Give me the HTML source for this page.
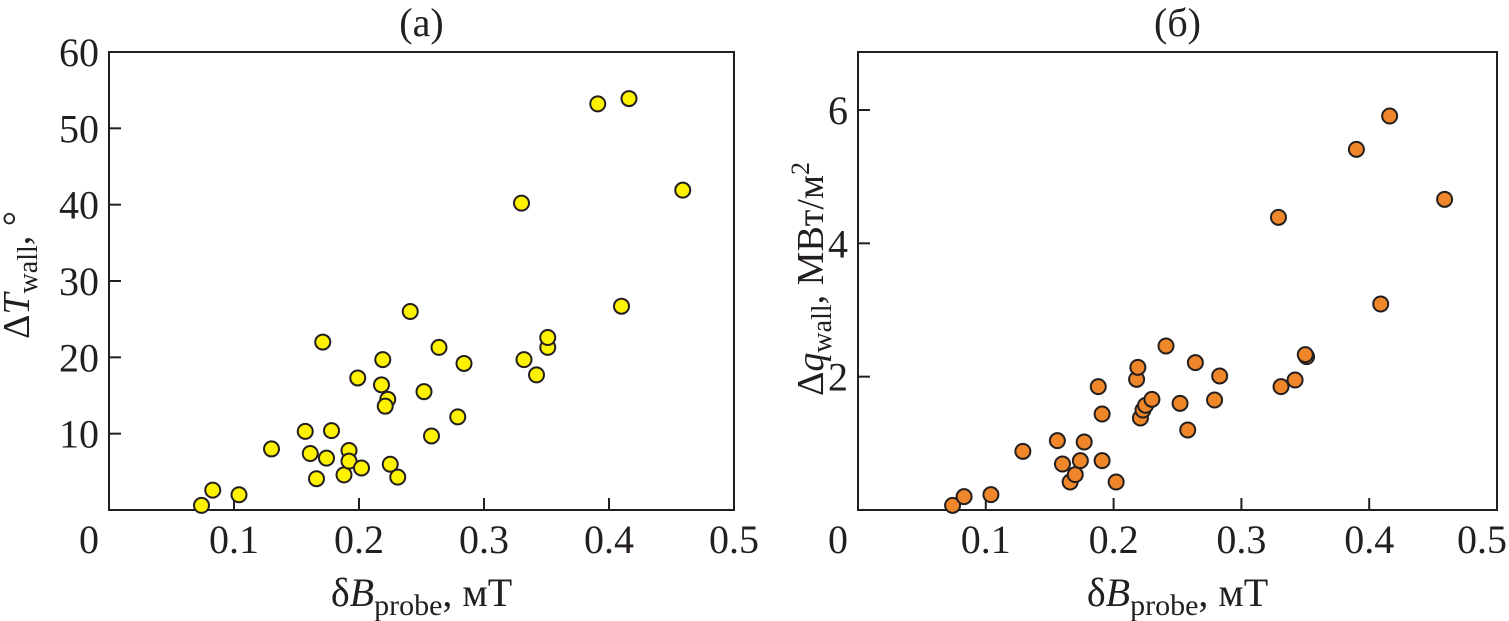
<!DOCTYPE html>
<html><head><meta charset="utf-8"><style>
html,body{margin:0;padding:0;background:#fff;}
svg{display:block;font-family:"Liberation Serif",serif;fill:#231f20;}
</style></head><body>
<svg id="chart" width="1509" height="621" viewBox="0 0 1509 621" xmlns="http://www.w3.org/2000/svg">
<g id="pa"></g>
<g id="pb"></g>
</svg>
<script>
const xTicks=[0,0.1,0.2,0.3,0.4,0.5];
const xTickLabels=["0","0.1","0.2","0.3","0.4","0.5"];
const aYTicks=[10,20,30,40,50,60];
const aYTickLabels=["10","20","30","40","50","60"];
const bYTicks=[2,4,6];
const bYTickLabels=["2","4","6"];
const aX=[0.074,0.083,0.104,0.130,0.157,0.161,0.166,0.171,0.174,0.178,0.188,0.192,0.192,0.199,0.202,0.218,0.219,0.223,0.221,0.225,0.231,0.241,0.252,0.258,0.264,0.279,0.284,0.330,0.332,0.342,0.351,0.351,0.391,0.410,0.416,0.459];
const aY=[0.6,2.6,2.0,8.0,10.3,7.4,4.1,22.0,6.8,10.4,4.6,7.8,6.4,17.3,5.5,16.4,19.7,14.5,13.6,6.0,4.3,26.0,15.5,9.7,21.3,12.2,19.2,40.2,19.7,17.7,21.3,22.6,53.2,26.7,53.9,41.9];
const bX=[0.074,0.083,0.104,0.129,0.156,0.160,0.166,0.170,0.174,0.177,0.188,0.191,0.191,0.202,0.218,0.219,0.221,0.223,0.225,0.230,0.241,0.252,0.258,0.264,0.279,0.283,0.329,0.331,0.342,0.351,0.350,0.390,0.409,0.416,0.459];
const bY=[0.07,0.20,0.23,0.88,1.04,0.69,0.42,0.53,0.74,1.02,1.85,1.44,0.74,0.42,1.96,2.14,1.38,1.50,1.57,1.66,2.46,1.60,1.20,2.21,1.65,2.01,4.39,1.85,1.95,2.30,2.33,5.41,3.09,5.91,4.66];

const NS="http://www.w3.org/2000/svg";
function mk(parent,tag,attrs,text){const e=document.createElementNS(NS,tag);for(const k in attrs)e.setAttribute(k,attrs[k]);if(text!=null)e.textContent=text;parent.appendChild(e);return e;}

function panel(g,cfg){
  const L=cfg.left,R=cfg.right,T=52,B=510;
  const sx=v=>L+(v-0)/(0.5)*(R-L);
  const sy=v=>B-(v-0)/(cfg.ymax)*(B-T);
  const frame=mk(g,'rect',{x:L,y:T,width:R-L,height:B-T,fill:'none',stroke:'#231f20','stroke-width':2});
  
  
  xTicks.forEach((v,i)=>{
    if(i>0&&i<xTicks.length-1){const t=mk(g,'line',{x1:sx(v),x2:sx(v),y1:B,y2:B-12,stroke:'#231f20','stroke-width':2});
      
      }
    let px=sx(v),anchor='middle';
    if(i===0)px=L-20;
    if(i===xTicks.length-1&&px+25>1507){px=1507;anchor='end';}
    const lb=mk(g,'text',{x:px,y:553,'font-size':40,'text-anchor':anchor},xTickLabels[i]);
    
    
  });
  cfg.yt.forEach((v,i)=>{
    if(sy(v)>T+2){const t=mk(g,'line',{x1:L,x2:L+12,y1:sy(v),y2:sy(v),stroke:'#231f20','stroke-width':2});
      
      }
    const lb=mk(g,'text',{x:L-10,y:sy(v)+14,'font-size':40,'text-anchor':'end'},cfg.ytl[i]);
    
    
  });
  cfg.xs.forEach((x,i)=>{
    const c=mk(g,'circle',{cx:sx(x),cy:sy(cfg.ys[i]),r:7.5,fill:cfg.color,stroke:'#231f20','stroke-width':2});
    
    
  });
  const ti=mk(g,'text',{x:(L+R)/2,y:36,'font-size':40,'text-anchor':'middle'},cfg.title);
  
  
  const xl=mk(g,'text',{x:(L+R)/2,y:606,'font-size':40,'text-anchor':'middle'});
  
  
  xl.innerHTML='δ<tspan font-style="italic">B</tspan><tspan font-size="30" dy="9">probe</tspan><tspan dy="-9">, мТ</tspan>';
}
panel(document.getElementById('pa'),{left:109,right:734,ymax:60,yt:aYTicks,ytl:aYTickLabels,xs:aX,ys:aY,color:'#fff200',title:'(a)'});
panel(document.getElementById('pb'),{left:858,right:1497,ymax:6.87,yt:bYTicks,ytl:bYTickLabels,xs:bX,ys:bY,color:'#f0862a',title:'(б)'});

const svg=document.getElementById('chart');
const yla=mk(svg,'text',{transform:'translate(29,275) rotate(-90)','font-size':38,'text-anchor':'middle'});


yla.innerHTML='Δ<tspan font-style="italic">T</tspan><tspan font-size="28" dy="8">wall</tspan><tspan dy="-8">,  °</tspan>';
const ylb=mk(svg,'text',{transform:'translate(823,279) rotate(-90)','font-size':38,'text-anchor':'middle'});


ylb.innerHTML='Δ<tspan font-style="italic">q</tspan><tspan font-size="28" dy="8">wall</tspan><tspan dy="-8">,  МВт/м</tspan><tspan font-size="26" dy="-14">2</tspan>';
</script>
</body></html>
